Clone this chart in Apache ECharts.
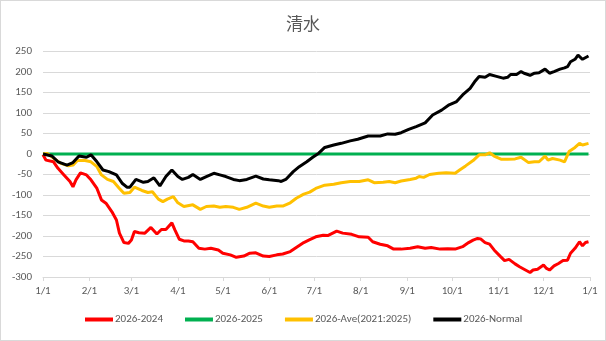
<!DOCTYPE html>
<html>
<head>
<meta charset="utf-8">
<script src="https://cdn.jsdelivr.net/npm/echarts@6/dist/echarts.min.js"></script>
<style>
html,body{margin:0;padding:0;background:#fff;}
#wrap{width:606px;height:341px;box-sizing:border-box;border:1px solid #d9d9d9;}
#chart{width:604px;height:339px;}
</style>
</head>
<body>
<div id="wrap"><div id="chart"></div></div>
<script>
// day index (0 = Jan 1) and value pairs
var title = '清水';
var seriesNames = ['2026-2024', '2026-2025', '2026-Ave(2021:2025)', '2026-Normal'];
var monthStarts = [0, 31, 59, 90, 120, 151, 181, 212, 243, 273, 304, 334, 365];
var monthLabels = ['1/1','2/1','3/1','4/1','5/1','6/1','7/1','8/1','9/1','10/1','11/1','12/1','1/1'];
var yTicks = [-300, 250, 50];

var diff2024 = [[0,-2],[2,-15],[7,-19],[10,-35],[14,-51],[18,-67],[20,-80],[22,-63],[25,-46],[29,-51],[32,-63],[36,-84],[39,-112],[42,-120],[46,-141],[49,-161],[51,-193],[54,-216],[57,-218],[59,-210],[61,-189],[64,-192],[68,-193],[72,-179],[76,-195],[79,-184],[82,-184],[86,-168],[88,-185],[91,-208],[94,-212],[97,-212],[100,-214],[104,-230],[108,-232],[112,-230],[117,-234],[120,-242],[125,-246],[129,-252],[134,-249],[138,-242],[142,-241],[147,-249],[151,-250],[156,-246],[160,-244],[165,-238],[169,-228],[174,-216],[178,-209],[182,-202],[187,-198],[190,-199],[196,-188],[200,-193],[206,-196],[211,-202],[217,-203],[220,-214],[225,-220],[230,-224],[234,-232],[239,-232],[245,-230],[250,-226],[255,-230],[259,-228],[265,-232],[270,-231],[275,-232],[280,-226],[284,-216],[287,-210],[290,-206],[292,-207],[295,-216],[298,-220],[301,-234],[305,-249],[308,-260],[311,-257],[315,-268],[318,-275],[321,-281],[325,-289],[327,-283],[330,-281],[334,-271],[336,-279],[338,-283],[341,-273],[344,-267],[347,-260],[350,-259],[352,-242],[355,-230],[358,-214],[360,-224],[362,-216],[364,-214]];
var diff2025 = [[0,0],[364,0]];
var diffAve = [[0,0],[3,1],[8,-13],[12,-23],[17,-29],[20,-27],[23,-16],[28,-16],[32,-19],[36,-31],[39,-51],[43,-62],[47,-67],[51,-84],[54,-96],[58,-94],[61,-81],[66,-89],[70,-94],[73,-92],[77,-110],[80,-116],[83,-110],[87,-104],[90,-119],[94,-128],[100,-124],[105,-135],[109,-128],[114,-127],[118,-130],[122,-128],[127,-130],[131,-135],[136,-130],[142,-120],[147,-127],[151,-130],[156,-127],[160,-127],[165,-119],[169,-108],[174,-98],[178,-93],[182,-84],[188,-76],[194,-74],[199,-70],[205,-67],[211,-67],[217,-63],[221,-70],[227,-69],[231,-67],[235,-70],[239,-66],[245,-62],[249,-59],[251,-55],[254,-57],[258,-50],[264,-47],[269,-46],[275,-47],[278,-39],[282,-29],[287,-16],[291,-2],[295,-2],[298,3],[301,-5],[306,-13],[310,-13],[315,-12],[319,-8],[324,-21],[328,-19],[331,-19],[335,-5],[337,-15],[340,-11],[345,-15],[348,-19],[351,6],[355,16],[358,26],[360,22],[364,26]];
var diffNormal = [[0,0],[6,-5],[10,-19],[16,-27],[20,-21],[24,-5],[29,-8],[32,-2],[36,-19],[40,-39],[44,-43],[49,-51],[53,-72],[56,-81],[58,-81],[62,-62],[67,-69],[70,-67],[74,-58],[78,-78],[82,-55],[86,-39],[90,-55],[93,-62],[97,-57],[100,-50],[105,-62],[109,-55],[114,-47],[118,-51],[122,-55],[127,-62],[131,-65],[136,-62],[142,-54],[147,-61],[151,-63],[157,-65],[159,-67],[162,-62],[167,-43],[171,-31],[176,-19],[180,-8],[184,2],[188,16],[194,22],[199,26],[205,32],[210,36],[217,44],[225,44],[230,49],[235,48],[239,52],[244,60],[249,67],[255,76],[260,95],[266,107],[271,120],[276,128],[280,144],[285,160],[288,176],[291,189],[295,187],[298,194],[302,190],[307,185],[310,187],[312,194],[316,194],[319,201],[321,197],[325,192],[328,197],[331,198],[335,207],[338,197],[341,201],[345,207],[348,210],[350,213],[352,225],[355,231],[357,241],[360,231],[364,239]];

var colors = ['#FF0000', '#00B050', '#FFC000', '#000000'];
var allData = [diff2024, diff2025, diffAve, diffNormal];

var chart = echarts.init(document.getElementById('chart'));
var labelFont = 'Calibri, "Liberation Sans", "Noto Sans", sans-serif';
chart.setOption({
  animation: false,
  color: colors,
  title: {
    text: title, left: 'center', top: 9,
    textStyle: {fontSize: 17, fontWeight: 'normal', color: '#595959', fontFamily: '"Noto Sans CJK JP", sans-serif'}
  },
  legend: {
    bottom: 10, left: 79, itemWidth: 28, itemHeight: 4, itemGap: 22,
    icon: 'rect',
    textStyle: {fontSize: 11, color: '#595959', fontFamily: labelFont, padding: [0, 0, 0, -3]},
    data: seriesNames
  },
  grid: {left: 42, right: 15, top: 50.5, bottom: 63},
  xAxis: {
    type: 'value', min: monthStarts[0], max: monthStarts[monthStarts.length - 1],
    axisLine: {onZero: false, lineStyle: {color: '#d9d9d9'}},
    splitLine: {show: false},
    axisTick: {show: true, length: 4, lineStyle: {color: '#d9d9d9'}, customValues: monthStarts},
    axisLabel: {
      customValues: monthStarts, margin: 9,
      fontSize: 11, color: '#595959', fontFamily: labelFont,
      formatter: function (v) { var i = monthStarts.indexOf(v); return i >= 0 ? monthLabels[i] : ''; }
    }
  },
  yAxis: {
    type: 'value', min: yTicks[0], max: yTicks[1], interval: yTicks[2],
    axisLine: {show: false}, axisTick: {show: false},
    splitLine: {lineStyle: {color: '#d9d9d9', width: 1}},
    axisLabel: {margin: 11, fontSize: 11, color: '#595959', fontFamily: labelFont}
  },
  series: allData.map(function (d, i) {
    return {
      name: seriesNames[i], type: 'line', data: d, showSymbol: false, symbol: 'none',
      lineStyle: {width: 3, color: colors[i]}, itemStyle: {color: colors[i]}, z: 2 + i
    };
  })
});
</script>
</body>
</html>
